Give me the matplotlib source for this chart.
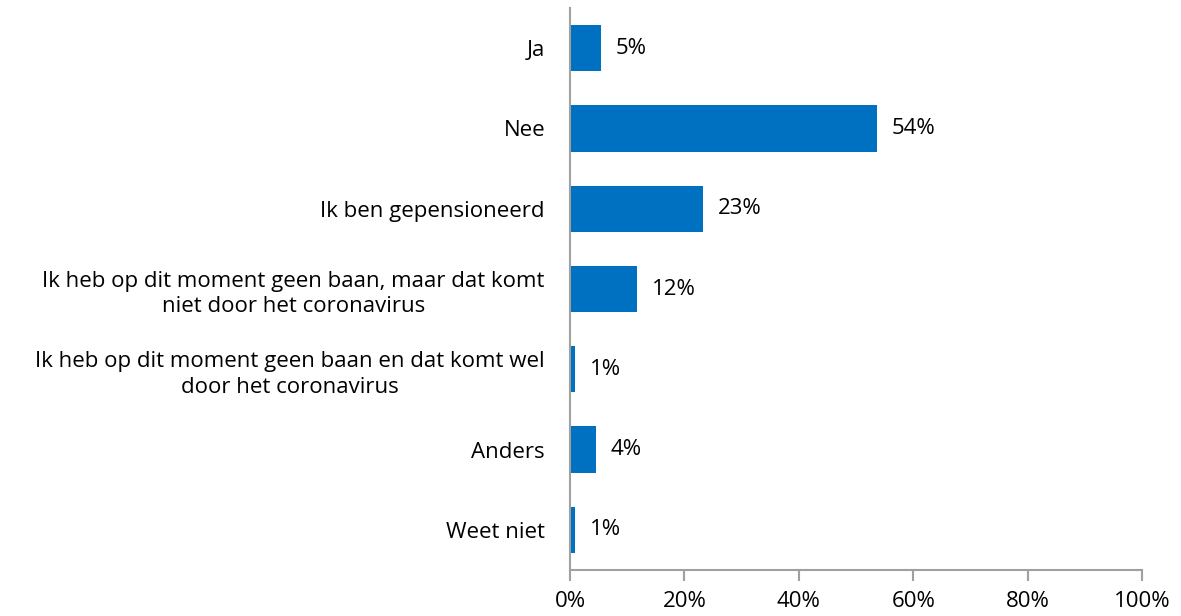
import matplotlib
matplotlib.use("Agg")
import matplotlib.pyplot as plt

plt.rcParams['font.family'] = ['Open Sans', 'DejaVu Sans']

categories = ["Ja", "Nee", "Ik ben gepensioneerd",
              "Ik heb op dit moment geen baan, maar dat komt\nniet door het coronavirus",
              "Ik heb op dit moment geen baan en dat komt wel\ndoor het coronavirus",
              "Anders", "Weet niet"]
values = [5.4, 53.7, 23.3, 11.7, 0.9, 4.5, 0.9]
value_labels = ["5%", "54%", "23%", "12%", "1%", "4%", "1%"]
xticks = [0, 20, 40, 60, 80, 100]

fig = plt.figure(figsize=(11.81, 6.16), dpi=100)
ax = fig.add_axes([570/1181, 1-570/616, 572/1181, 562/616])

y = list(range(len(categories)))
ax.barh(y, values, height=0.575, color="#0070C0")
for yi, v, lab in zip(y, values, value_labels):
    ax.text(v + 2.6, yi, lab, va="center", ha="left", fontsize=16, color="black")

ax.set_ylim(len(categories) - 0.5, -0.5)
ax.set_xlim(0, 100)
ax.set_yticks(y)
ax.set_yticklabels(categories, fontsize=16, ha="right", multialignment="center",
                   linespacing=1.3)
ax.tick_params(axis="y", length=0, pad=18)
ax.set_xticks(xticks)
ax.set_xticklabels([f"{t}%" for t in xticks], fontsize=16)
ax.tick_params(axis="x", length=8, color="#a0a0a0", width=1.5, pad=7)

for s in ["top", "right"]:
    ax.spines[s].set_visible(False)
for s in ["left", "bottom"]:
    ax.spines[s].set_color("#a0a0a0")
    ax.spines[s].set_linewidth(1.5)

fig.savefig("out.png", dpi=100)
